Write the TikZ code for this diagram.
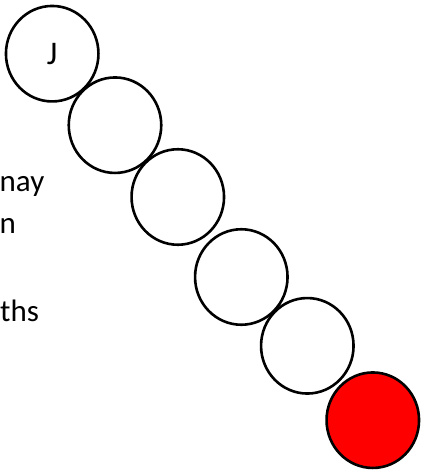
\documentclass[tikz,border=0pt]{standalone}
\usepackage{fontspec}
\setmainfont{Carlito}
\usetikzlibrary{shapes.geometric}
\begin{document}
\begin{tikzpicture}[x=1pt,y=-1pt,
  bead/.style={ellipse,draw=black,line width=2.6pt,fill=white,
    minimum width=92.5pt,minimum height=95.5pt,inner sep=0pt,
    font=\fontsize{33}{40}\selectfont},
  sidetext/.style={anchor=base west,inner sep=0pt,
    font=\fontsize{31}{38}\selectfont}]
  \useasboundingbox (0,0) rectangle (422,470);
  % text lines at the left margin
  \node[sidetext] (t1) at (-0.5,191) {nay};
  \node[sidetext] (t2) at (-0.5,233) {n};
  \node[sidetext] (t3) at (0,321) {ths};
  % chain of beads
  \node[bead] (b1) at (52.2,53.7) {J};
  \node[bead] (b2) at (115,125.2) {};
  \node[bead] (b3) at (177.8,197) {};
  \node[bead] (b4) at (241.3,277) {};
  \node[bead] (b5) at (307.3,345.8) {};
  \node[bead,fill=red] (b6) at (372.8,420.2) {};
\end{tikzpicture}
\end{document}
